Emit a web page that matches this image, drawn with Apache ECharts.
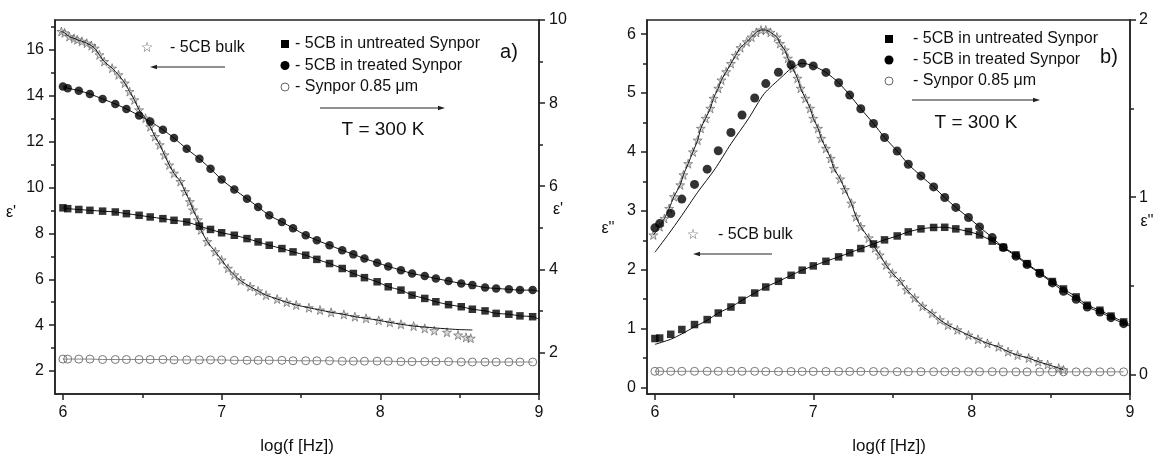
<!DOCTYPE html>
<html><head><meta charset="utf-8">
<script src="https://cdn.jsdelivr.net/npm/echarts@6/dist/echarts.min.js"></script>
<style>html,body{margin:0;padding:0;background:#fff}#c{width:1165px;height:457px}</style>
</head><body><div id="c"></div>
<script>
// ---------- DATA ----------
const logF = [6.00,6.03,6.10,6.17,6.25,6.33,6.40,6.48,6.55,6.63,6.70,6.78,6.86,6.93,7.00,7.08,7.16,7.23,7.30,7.38,7.45,7.53,7.60,7.68,7.76,7.83,7.90,7.98,8.05,8.13,8.20,8.28,8.35,8.43,8.51,8.58,8.66,8.73,8.81,8.88,8.96];

// panel a (eps'), right axis series
const treatedA   = [8.40,8.36,8.30,8.22,8.10,7.98,7.86,7.70,7.56,7.36,7.16,6.90,6.66,6.42,6.16,5.92,5.70,5.50,5.30,5.14,4.99,4.82,4.70,4.58,4.46,4.36,4.26,4.16,4.07,3.98,3.90,3.84,3.78,3.72,3.66,3.62,3.56,3.54,3.52,3.50,3.50];
const untreatedA = [5.48,5.46,5.44,5.42,5.40,5.38,5.34,5.30,5.26,5.22,5.18,5.14,5.04,4.96,4.88,4.82,4.74,4.66,4.58,4.50,4.42,4.34,4.24,4.14,4.02,3.90,3.80,3.70,3.58,3.50,3.38,3.30,3.22,3.15,3.10,3.04,3.00,2.94,2.92,2.88,2.86];
const synporA    = [1.84,1.84,1.84,1.84,1.83,1.83,1.83,1.83,1.83,1.83,1.82,1.82,1.82,1.82,1.82,1.81,1.81,1.81,1.81,1.81,1.80,1.80,1.80,1.80,1.79,1.79,1.79,1.79,1.79,1.78,1.78,1.78,1.78,1.78,1.77,1.77,1.77,1.77,1.77,1.77,1.77];
const treatedA_end = [9.0, 3.47];
const untreatedA_end = [9.0, 2.80];

// panel a, left axis: 5CB bulk
const bulkA_x = [5.99,6.01,6.04,6.07,6.09,6.12,6.15,6.18,6.20,6.23,6.26,6.31,6.35,6.39,6.42,6.45,6.48,6.52,6.55,6.58,6.61,6.64,6.67,6.70,6.74,6.77,6.80,6.82,6.85,6.87,6.91,6.96,7.00,7.04,7.08,7.12,7.18,7.23,7.28,7.35,7.41,7.47,7.55,7.62,7.69,7.77,7.84,7.91,7.99,8.06,8.13,8.21,8.28,8.34,8.42,8.49,8.54,8.57];
const bulkA_y = [16.80,16.74,16.58,16.50,16.44,16.37,16.29,16.18,16.07,15.78,15.49,15.20,14.91,14.55,14.18,13.82,13.38,13.02,12.65,12.22,11.86,11.42,10.98,10.62,10.26,9.82,9.38,9.02,8.59,8.15,7.64,7.20,6.84,6.48,6.19,5.94,5.68,5.49,5.31,5.14,5.00,4.88,4.76,4.66,4.56,4.47,4.37,4.30,4.21,4.12,4.04,3.96,3.86,3.76,3.69,3.57,3.47,3.43];
const bulkA_fitTailX = [8.28,8.34,8.42,8.49,8.58];
const bulkA_fitTailY = [3.92,3.88,3.84,3.81,3.79];

// panel b (eps''), right axis series
const treatedB   = [0.827,0.851,0.908,0.989,1.072,1.158,1.262,1.365,1.464,1.560,1.641,1.705,1.747,1.756,1.741,1.704,1.646,1.576,1.499,1.416,1.337,1.260,1.186,1.120,1.058,0.998,0.942,0.885,0.832,0.772,0.716,0.667,0.620,0.569,0.516,0.469,0.424,0.380,0.352,0.320,0.286];
const untreatedB = [0.202,0.205,0.226,0.253,0.281,0.309,0.346,0.380,0.418,0.459,0.493,0.525,0.559,0.588,0.612,0.638,0.663,0.686,0.710,0.736,0.759,0.781,0.804,0.821,0.829,0.830,0.821,0.806,0.787,0.752,0.717,0.674,0.625,0.574,0.524,0.482,0.437,0.390,0.362,0.329,0.296];
const synporB    = [0.017,0.017,0.017,0.017,0.017,0.017,0.017,0.017,0.017,0.017,0.016,0.016,0.016,0.016,0.016,0.016,0.016,0.016,0.016,0.016,0.015,0.015,0.015,0.015,0.015,0.015,0.015,0.015,0.015,0.015,0.014,0.014,0.014,0.014,0.014,0.014,0.014,0.014,0.014,0.014,0.014];
// fitted curves (deviate from points at low frequency)
const treatedB_fitLowX = [6.00,6.08,6.17,6.27,6.38,6.48,6.59,6.69,6.80,6.86];
const treatedB_fitLowY = [0.689,0.784,0.897,1.028,1.160,1.301,1.442,1.584,1.678,1.726];
const untreatedB_fitLowX = [6.00,6.10,6.17,6.25,6.33];
const untreatedB_fitLowY = [0.169,0.198,0.228,0.268,0.305];
const fitB_end = [9.0, 0.272];
const untreatedB_end = [9.0, 0.280];

// panel b, left axis: 5CB bulk
const bulkB_x = [5.99,6.03,6.06,6.09,6.12,6.16,6.18,6.21,6.24,6.27,6.29,6.32,6.35,6.37,6.40,6.42,6.45,6.48,6.51,6.54,6.58,6.61,6.64,6.67,6.70,6.73,6.77,6.79,6.82,6.84,6.87,6.90,6.92,6.95,6.98,7.00,7.03,7.05,7.08,7.11,7.13,7.17,7.20,7.24,7.27,7.30,7.35,7.39,7.42,7.46,7.50,7.55,7.59,7.64,7.69,7.75,7.80,7.85,7.91,7.98,8.04,8.10,8.17,8.23,8.29,8.36,8.42,8.48,8.55,8.58];
const bulkB_y = [2.59,2.73,2.87,3.04,3.24,3.44,3.61,3.80,4.00,4.20,4.40,4.57,4.74,4.91,5.08,5.22,5.36,5.50,5.64,5.77,5.87,5.95,6.03,6.07,6.07,6.03,5.95,5.84,5.73,5.59,5.42,5.25,5.08,4.91,4.74,4.57,4.40,4.23,4.06,3.89,3.72,3.54,3.36,3.13,2.90,2.73,2.54,2.37,2.25,2.08,1.94,1.80,1.66,1.52,1.38,1.26,1.15,1.06,0.98,0.89,0.82,0.75,0.69,0.61,0.55,0.50,0.44,0.39,0.33,0.30];

// tick labels
const xMajor = [6,7,8,9], xMinor = [6.5,7.5,8.5];
const yA_left_major = [2,4,6,8,10,12,14,16], yA_left_minor = [3,5,7,9,11,13,15,17];
const yA_right_major = [2,4,6,8,10], yA_right_minor = [3,5,7,9];
const yB_left_major = [0,1,2,3,4,5,6], yB_left_minor = [0.5,1.5,2.5,3.5,4.5,5.5];
const yB_right_major = [0,1,2], yB_right_minor = [0.5,1.5];

const legendLabels = ['- 5CB in untreated Synpor','- 5CB in treated Synpor','- Synpor 0.85 \u03bcm'];
const bulkLabel = '- 5CB bulk';
const tempLabel = 'T = 300 K';

// ---------- BUILD ----------
const zip = (xs, ys) => xs.map((x, i) => [x, ys[i]]);
const FONT = '"Liberation Sans", Arial, sans-serif';
const AX = '#222';
const STAR = 'path://M50,0 L61,35 L98,35 L68,57 L79,91 L50,70 L21,91 L32,57 L2,35 L39,35 Z';

function xAxes(gi) {
  return [
    {gridIndex: gi, type: 'value', position: 'bottom', min: 5.95, max: 9,
     axisLine: {show: true, onZero: false, lineStyle: {color: AX, width: 1.5}},
     axisTick: {show: true, customValues: xMajor, length: 6, lineStyle: {color: AX, width: 1.5}},
     axisLabel: {customValues: xMajor, fontSize: 16, color: '#111', margin: 11, fontFamily: FONT},
     splitLine: {show: false}},
    {gridIndex: gi, type: 'value', position: 'bottom', min: 5.95, max: 9,
     axisLine: {show: false, onZero: false},
     axisTick: {show: true, customValues: xMinor, length: 4, lineStyle: {color: AX, width: 1.5}},
     axisLabel: {show: false}, splitLine: {show: false}}
  ];
}
function yAxes(gi, pos, min, max, major, minor, margin) {
  return [
    {gridIndex: gi, type: 'value', position: pos, min: min, max: max,
     axisLine: {show: true, onZero: false, lineStyle: {color: AX, width: 1.5}},
     axisTick: {show: true, customValues: major, length: 6, lineStyle: {color: AX, width: 1.5}},
     axisLabel: {customValues: major, fontSize: 16, color: '#111', margin: margin, fontFamily: FONT},
     splitLine: {show: false}},
    {gridIndex: gi, type: 'value', position: pos, min: min, max: max,
     axisLine: {show: false, onZero: false},
     axisTick: {show: true, customValues: minor, length: 4, lineStyle: {color: AX, width: 1.5}},
     axisLabel: {show: false}, splitLine: {show: false}}
  ];
}

function fitLine(xi, yi, data, z) {
  return {type: 'line', xAxisIndex: xi, yAxisIndex: yi, data: data, symbol: 'none', smooth: 0.25,
          lineStyle: {color: '#111', width: 1}, z: z || 3, silent: true};
}
function marks(xi, yi, data, sym, size) {
  return {type: 'scatter', xAxisIndex: xi, yAxisIndex: yi, data: data, symbol: sym, symbolSize: size,
          itemStyle: {color: '#000'}, z: 4, silent: true};
}
function synpor(xi, yi, data) {
  return {type: 'line', xAxisIndex: xi, yAxisIndex: yi, data: data, symbol: 'circle', symbolSize: 8,
          showAllSymbol: true,
          itemStyle: {color: 'rgba(255,255,255,0)', borderColor: '#777', borderWidth: 1},
          lineStyle: {color: '#888', width: 1}, z: 2, silent: true};
}
function stars(xi, yi, data) {
  return {type: 'scatter', xAxisIndex: xi, yAxisIndex: yi, data: data, symbol: STAR, symbolSize: 9,
          itemStyle: {color: '#cfcfcf', borderColor: '#5a5a5a', borderWidth: 0.8}, z: 2, silent: true};
}

const bulkA_fitN = bulkA_x.filter(x => x <= 8.21).length;
const series = [
  // panel a
  synpor(0, 2, zip(logF, synporA)),
  fitLine(0, 2, zip(logF, untreatedA).concat([untreatedA_end])),
  fitLine(0, 2, zip(logF, treatedA).concat([treatedA_end])),
  marks(0, 2, zip(logF, untreatedA), 'rect', 7.5),
  marks(0, 2, zip(logF, treatedA), 'circle', 8.5),
  stars(0, 0, zip(bulkA_x, bulkA_y)),
  fitLine(0, 0, zip(bulkA_x.slice(0, bulkA_fitN), bulkA_y.slice(0, bulkA_fitN))
                 .concat(zip(bulkA_fitTailX, bulkA_fitTailY)), 5),
  // panel b
  synpor(2, 6, zip(logF, synporB)),
  fitLine(2, 6, zip(untreatedB_fitLowX, untreatedB_fitLowY).concat(zip(logF, untreatedB).filter(p => p[0] >= 6.40)).concat([untreatedB_end])),
  fitLine(2, 6, zip(treatedB_fitLowX, treatedB_fitLowY).concat(zip(logF, treatedB).filter(p => p[0] >= 6.93)).concat([fitB_end])),
  marks(2, 6, zip(logF, untreatedB), 'rect', 7.5),
  marks(2, 6, zip(logF, treatedB), 'circle', 9),
  stars(2, 4, zip(bulkB_x, bulkB_y)),
  fitLine(2, 4, zip(bulkB_x, bulkB_y), 5)
];

function txt(t, x, y, size, align, font, fill) {
  return {type: 'text', silent: true, z: 100,
    style: {text: t, x: x, y: y, fontSize: size, fontFamily: font || FONT, fill: fill || '#111',
            textAlign: align || 'left', textVerticalAlign: 'middle', align: align || 'left', verticalAlign: 'middle'}};
}
function arrow(x1, x2, y) {
  const dir = x2 > x1 ? 1 : -1;
  return [
    {type: 'line', silent: true, z: 100, shape: {x1: x1, y1: y, x2: x2 - dir * 5, y2: y}, style: {stroke: '#222', lineWidth: 1}},
    {type: 'polygon', silent: true, z: 100, shape: {points: [[x2, y], [x2 - dir * 7, y - 2.2], [x2 - dir * 7, y + 2.2]]}, style: {fill: '#222'}}
  ];
}
function legendBlock(mx, tx, y0, dy) {
  return [
    {type: 'rect', silent: true, z: 100, shape: {x: mx - 4, y: y0 - 4, width: 8, height: 8}, style: {fill: '#000'}},
    {type: 'circle', silent: true, z: 100, shape: {cx: mx, cy: y0 + dy, r: 4.5}, style: {fill: '#000'}},
    {type: 'circle', silent: true, z: 100, shape: {cx: mx, cy: y0 + 2 * dy, r: 4}, style: {fill: '#fff', stroke: '#666', lineWidth: 1}},
    txt(legendLabels[0], tx, y0, 16),
    txt(legendLabels[1], tx, y0 + dy, 16),
    txt(legendLabels[2], tx, y0 + 2 * dy, 16)
  ];
}
const STARFONT = '"DejaVu Sans", sans-serif';

const graphic = [].concat(
  // panel a
  legendBlock(285, 295, 44, 21.5),
  arrow(320, 445, 108),
  [txt(tempLabel, 383, 130, 19, 'center'),
   txt('a)', 509, 52, 20, 'center'),
   txt('\u2606', 147, 48, 14, 'center', STARFONT, '#555'),
   txt(bulkLabel, 170, 48, 16)],
  arrow(225, 150, 67),
  [txt("\u03b5'", 11, 213, 16, 'center'),
   txt("\u03b5'", 558, 210, 16, 'center'),
   txt('log(f [Hz])', 297, 446, 17, 'center')],
  // panel b
  legendBlock(889, 913, 39, 21),
  arrow(912, 1040, 100),
  [txt(tempLabel, 976, 123, 19, 'center'),
   txt('b)', 1109, 57, 20, 'center'),
   txt('\u2606', 693, 235, 14, 'center', STARFONT, '#555'),
   txt(bulkLabel, 718, 235, 16)],
  arrow(772, 693, 254),
  [txt("\u03b5''", 608, 229, 16, 'center'),
   txt("\u03b5''", 1147, 222, 16, 'center'),
   txt('log(f [Hz])', 889, 446, 17, 'center')]
);

const option = {
  animation: false,
  backgroundColor: '#fff',
  grid: [
    {left: 55, top: 20, width: 484, height: 374, show: true, borderColor: AX, borderWidth: 1.5, backgroundColor: 'transparent'},
    {left: 647, top: 20, width: 483, height: 374, show: true, borderColor: AX, borderWidth: 1.5, backgroundColor: 'transparent'}
  ],
  xAxis: [].concat(xAxes(0), xAxes(1)),
  yAxis: [].concat(
    yAxes(0, 'left', 1, 17.3, yA_left_major, yA_left_minor, 11),
    yAxes(0, 'right', 1, 10, yA_right_major, yA_right_minor, 10),
    yAxes(1, 'left', -0.11, 6.24, yB_left_major, yB_left_minor, 11),
    yAxes(1, 'right', -0.111, 2, yB_right_major, yB_right_minor, 9)
  ),
  series: series,
  graphic: graphic
};
const chart = echarts.init(document.getElementById('c'), null, {renderer: 'canvas'});
chart.setOption(option);
</script></body></html>
